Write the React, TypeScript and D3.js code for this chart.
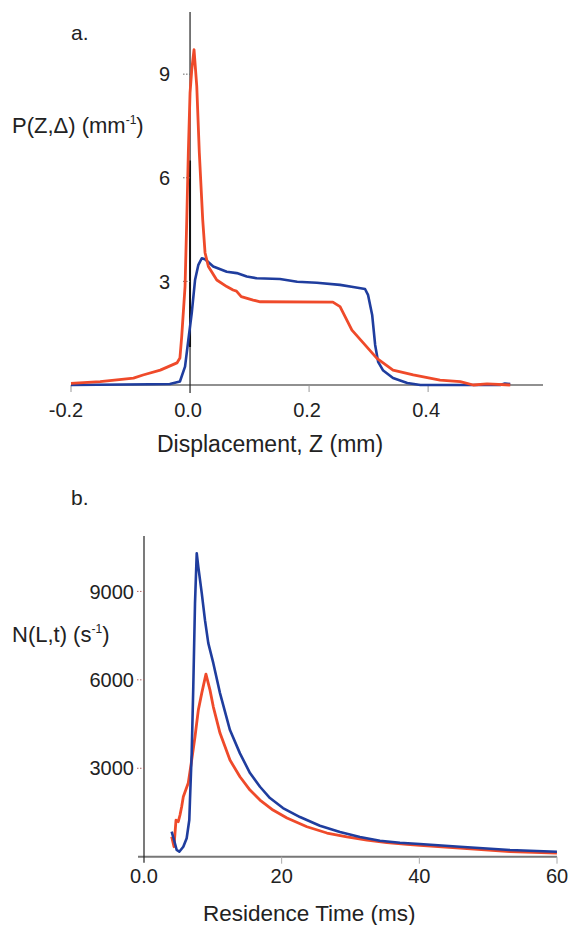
import React, { useRef, useEffect } from "react"
import * as d3 from "d3"

// panel a: displacement propagator, [Z (mm), P (mm^-1)]
const dispRed: [number, number][] = [
  [-0.2, 0.05], [-0.151, 0.1], [-0.095, 0.2], [-0.079, 0.29], [-0.05, 0.43],
  [-0.022, 0.64], [-0.017, 0.78], [-0.014, 1.4], [-0.0084, 2.85], [-0.0055, 4.78],
  [-0.0029, 6.72], [0, 8.46], [0.0029, 9.13], [0.0067, 9.71], [0.0113, 8.65],
  [0.0156, 6.72], [0.0213, 4.78], [0.0252, 3.83], [0.0308, 3.43], [0.0449, 3.04],
  [0.0617, 2.85], [0.0723, 2.75], [0.078, 2.72], [0.086, 2.56], [0.106, 2.46],
  [0.118, 2.41], [0.24, 2.4], [0.252, 2.27], [0.272, 1.59], [0.291, 1.22],
  [0.314, 0.77], [0.341, 0.43], [0.375, 0.29], [0.42, 0.14], [0.454, 0.1],
  [0.476, 0.0], [0.499, 0.03], [0.538, 0.0],
]
const dispBlue: [number, number][] = [
  [-0.2, 0], [-0.067, 0.02], [-0.034, 0.03], [-0.017, 0.1], [-0.0084, 0.53],
  [-0.0029, 1.3], [0.0029, 2.09], [0.0084, 3.04], [0.014, 3.48], [0.0197, 3.67],
  [0.0252, 3.64], [0.039, 3.43], [0.0617, 3.28], [0.0785, 3.24], [0.0953, 3.14],
  [0.112, 3.09], [0.151, 3.07], [0.18, 2.99], [0.213, 2.96], [0.252, 2.9],
  [0.274, 2.84], [0.294, 2.78], [0.299, 2.61], [0.306, 2.03], [0.311, 1.16],
  [0.316, 0.67], [0.324, 0.43], [0.341, 0.2], [0.365, 0.06], [0.387, 0],
  [0.5, 0], [0.521, 0], [0.529, 0.04], [0.538, 0.03],
]
const dispXTicks = [-0.2, 0.0, 0.2, 0.4]
const dispYTicks = [3, 6, 9]

// panel b: residence time distribution, [t (ms), N (s^-1)]
const resBlue: [number, number][] = [
  [4.02, 848], [4.36, 566], [4.75, 227], [5.13, 170], [5.71, 339], [6.2, 624],
  [6.58, 1244], [6.68, 1922], [6.93, 3515], [7.16, 5763], [7.41, 8600], [7.66, 10295],
  [7.89, 9831], [8.39, 8940], [8.86, 8024], [9.34, 7244], [10.07, 6566], [11.04, 5550],
  [12.49, 4295], [13.94, 3505], [15.4, 2837], [16.85, 2373], [18.3, 1990], [20.19, 1651],
  [22.66, 1346], [25.56, 1051], [28.47, 837], [31.37, 668], [34.28, 542], [37.18, 475],
  [40.08, 431], [45.9, 339], [53.16, 227], [59.99, 170],
]
const resRed: [number, number][] = [
  [4.02, 678], [4.36, 339], [4.5, 793], [4.65, 1244], [4.98, 1187], [5.23, 1414],
  [5.47, 1695], [5.71, 2034], [6.43, 2498], [6.93, 3278], [7.41, 4068], [7.89, 4973],
  [8.39, 5549], [9.0, 6193], [9.59, 5651], [10.07, 5085], [11.04, 4193], [12.49, 3278],
  [13.94, 2712], [15.4, 2261], [16.85, 1922], [18.74, 1583], [20.77, 1312], [23.67, 1017],
  [26.58, 803], [29.48, 673], [32.39, 566], [35.29, 475], [38.2, 420], [40.09, 386],
  [45.9, 295], [53.16, 176], [59.99, 125],
]
const resXTicks = [0, 20, 40, 60]
const resXLabels = ["0.0", "20", "40", "60"]
const resYTicks = [3000, 6000, 9000]

const RED = "#ef4a2a"
const BLUE = "#1f3d9e"
const FONT = "'Liberation Sans', Arial, sans-serif"

export default function App() {
  const el = useRef<SVGSVGElement>(null)

  useEffect(function () {
    const svg = d3.select(el.current)
    svg.selectAll("*").remove()
    svg.style("font-family", FONT)

    // ---------- panel a ----------
    const xa = d3.scaleLinear().domain([-0.2, 0.593]).range([71, 543])
    const ya = d3.scaleLinear().domain([0, 10.8]).range([385, 12])
    const ga = svg.append("g")

    ga.append("line")
      .attr("x1", xa(-0.2)).attr("x2", xa(0.593))
      .attr("y1", ya(0)).attr("y2", ya(0))
      .attr("stroke", "#222").attr("stroke-width", 1.2)
    ga.append("line")
      .attr("x1", xa(0)).attr("x2", xa(0))
      .attr("y1", ya(10.8)).attr("y2", ya(0) + 8)
      .attr("stroke", "#222").attr("stroke-width", 1.2)
    // darker stretch on the axis seen in the scan
    ga.append("line")
      .attr("x1", xa(0)).attr("x2", xa(0))
      .attr("y1", ya(6.5)).attr("y2", ya(1.1))
      .attr("stroke", "#111").attr("stroke-width", 2)

    ga.selectAll(".yt").data(dispYTicks).enter().append("line")
      .attr("x1", xa(0) - 7).attr("x2", xa(0))
      .attr("y1", d => ya(d)).attr("y2", d => ya(d))
      .attr("stroke", "#666").attr("stroke-dasharray", "1.5,1.5")
    ga.selectAll(".ytl").data(dispYTicks).enter().append("text")
      .attr("x", 170).attr("y", d => ya(d))
      .attr("dy", "0.36em").attr("text-anchor", "end")
      .attr("font-size", 20).attr("fill", "#222")
      .text(d => String(d))

    ga.selectAll(".xt").data(dispXTicks.filter(d => d !== 0)).enter().append("line")
      .attr("x1", d => xa(d)).attr("x2", d => xa(d))
      .attr("y1", ya(0)).attr("y2", ya(0) + 7)
      .attr("stroke", "#999").attr("stroke-width", 1)
    ga.selectAll(".xtl").data(dispXTicks).enter().append("text")
      .attr("x", d => xa(d) - (d < 0 ? 5 : 2)).attr("y", 417)
      .attr("text-anchor", "middle")
      .attr("font-size", 20).attr("fill", "#222")
      .text(d => d.toFixed(1))

    const lineA = d3.line<[number, number]>().x(d => xa(d[0])).y(d => ya(d[1]))
    ga.append("path").datum(dispBlue).attr("d", lineA)
      .attr("fill", "none").attr("stroke", BLUE).attr("stroke-width", 2.6)
      .attr("stroke-linejoin", "round")
    ga.append("path").datum(dispRed).attr("d", lineA)
      .attr("fill", "none").attr("stroke", RED).attr("stroke-width", 2.8)
      .attr("stroke-linejoin", "round")

    ga.append("text").attr("x", 71).attr("y", 40)
      .attr("font-size", 21).attr("fill", "#222").text("a.")
    ga.append("text").attr("x", 157).attr("y", 452)
      .attr("font-size", 23).attr("fill", "#222").text("Displacement, Z (mm)")
    const ta = ga.append("text").attr("x", 12).attr("y", 133)
      .attr("font-size", 22).attr("fill", "#222")
    ta.append("tspan").text("P(Z,Δ) (mm")
    ta.append("tspan").attr("dy", -9).attr("font-size", 12).text("-1")
    ta.append("tspan").attr("dy", 9).text(")")

    // ---------- panel b ----------
    const xb = d3.scaleLinear().domain([0, 60]).range([144, 557])
    const yb = d3.scaleLinear().domain([0, 10880]).range([856.7, 536])
    const gb = svg.append("g")

    gb.append("line")
      .attr("x1", xb(0) - 6).attr("x2", xb(60))
      .attr("y1", yb(0)).attr("y2", yb(0))
      .attr("stroke", "#777").attr("stroke-width", 2)
    gb.append("line")
      .attr("x1", xb(0)).attr("x2", xb(0))
      .attr("y1", yb(10880)).attr("y2", yb(0) + 6)
      .attr("stroke", "#222").attr("stroke-width", 1.2)

    gb.selectAll(".yt").data(resYTicks).enter().append("line")
      .attr("x1", xb(0) - 7).attr("x2", xb(0))
      .attr("y1", d => yb(d)).attr("y2", d => yb(d))
      .attr("stroke", "#a66").attr("stroke-dasharray", "1.5,1.5")
    gb.selectAll(".ytl").data(resYTicks).enter().append("text")
      .attr("x", 134).attr("y", d => yb(d))
      .attr("dy", "0.36em").attr("text-anchor", "end")
      .attr("font-size", 20).attr("fill", "#222")
      .text(d => String(d))

    gb.selectAll(".xt").data(resXTicks.filter(d => d !== 0)).enter().append("line")
      .attr("x1", d => xb(d)).attr("x2", d => xb(d))
      .attr("y1", yb(0)).attr("y2", yb(0) + 7)
      .attr("stroke", "#aaa").attr("stroke-width", 1)
    gb.selectAll(".xtl").data(resXTicks).enter().append("text")
      .attr("x", d => xb(d)).attr("y", 883)
      .attr("text-anchor", "middle")
      .attr("font-size", 20).attr("fill", "#222")
      .text((d, i) => resXLabels[i])

    const lineB = d3.line<[number, number]>().x(d => xb(d[0])).y(d => yb(d[1]))
    gb.append("path").datum(resRed).attr("d", lineB)
      .attr("fill", "none").attr("stroke", RED).attr("stroke-width", 2.8)
      .attr("stroke-linejoin", "round")
    gb.append("path").datum(resBlue).attr("d", lineB)
      .attr("fill", "none").attr("stroke", BLUE).attr("stroke-width", 2.6)
      .attr("stroke-linejoin", "round")

    gb.append("text").attr("x", 71).attr("y", 505)
      .attr("font-size", 21).attr("fill", "#222").text("b.")
    gb.append("text").attr("x", 203).attr("y", 921)
      .attr("font-size", 22.5).attr("fill", "#222").text("Residence Time (ms)")
    const tb = gb.append("text").attr("x", 12).attr("y", 642)
      .attr("font-size", 22).attr("fill", "#222")
    tb.append("tspan").text("N(L,t) (s")
    tb.append("tspan").attr("dy", -9).attr("font-size", 12).text("-1")
    tb.append("tspan").attr("dy", 9).text(")")
  }, [])

  return (
    <svg ref={el} width={570} height={925}
      style={{ position: "absolute", left: 0, top: 0, background: "#fff" }} />
  )
}
